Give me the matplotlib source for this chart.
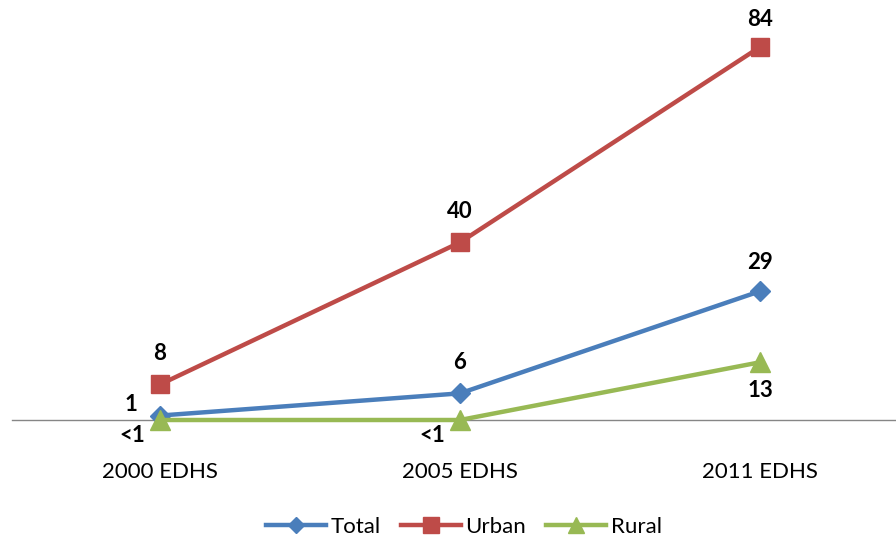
import matplotlib
matplotlib.use("Agg")
import matplotlib.pyplot as plt

# --- data --------------------------------------------------------------------
surveys = ["2000 EDHS", "2005 EDHS", "2011 EDHS"]
total = [1, 6, 29]
urban = [8, 40, 84]
rural = [0, 0, 13]
total_labels = ["1", "6", "29"]
urban_labels = ["8", "40", "84"]
rural_labels = ["<1", "<1", "13"]

plt.rcParams["font.family"] = ["Lato", "DejaVu Sans"]

fig = plt.figure(figsize=(8.96, 5.39), dpi=100)
ax = fig.add_axes([12 / 896, (539 - 420) / 539, 1 - 12 / 896, 420 / 539])

x = list(range(len(surveys)))
lw = 3.2
l1, = ax.plot(x, total, color="#4A7EBB", lw=lw, marker="D", ms=10, clip_on=False, zorder=3, label="Total")
l2, = ax.plot(x, urban, color="#BE4B48", lw=lw, marker="s", ms=13, clip_on=False, zorder=3, label="Urban")
l3, = ax.plot(x, rural, color="#98B954", lw=lw, marker="^", ms=14, clip_on=False, zorder=4, label="Rural")

lab = dict(fontsize=16, fontweight="bold", ha="center", va="center",
           textcoords="offset points", annotation_clip=False)
# (dx, dy) offsets in points for each label
total_off = [(-21, 8), (0, 22), (0, 21)]
urban_off = [(0, 22), (0, 22), (0, 20)]
rural_off = [(-20, -11), (-20, -11), (0, -20)]
for xi in x:
    ax.annotate(total_labels[xi], (xi, total[xi]), xytext=total_off[xi], **lab)
    ax.annotate(urban_labels[xi], (xi, urban[xi]), xytext=urban_off[xi], **lab)
    ax.annotate(rural_labels[xi], (xi, rural[xi]), xytext=rural_off[xi], **lab)

ax.set_xlim(-148 / 300, 2 + 136 / 300)
ax.set_ylim(0, 84 + 47 / 4.44)
ax.set_xticks(x)
ax.set_xticklabels(surveys, fontsize=16)
ax.tick_params(axis="x", length=0, pad=30)
ax.set_yticks([])
for s in ["top", "right", "left"]:
    ax.spines[s].set_visible(False)
ax.spines["bottom"].set_color("#868686")
ax.spines["bottom"].set_linewidth(1)
ax.patch.set_visible(False)

fig.legend(handles=[l1, l2, l3], loc="center", bbox_to_anchor=(464 / 896, 1 - 527 / 539),
           ncol=3, frameon=False, fontsize=16, handlelength=2.7, columnspacing=0.9,
           handletextpad=0.2, markerscale=0.85)

fig.savefig("out.png", dpi=100)
